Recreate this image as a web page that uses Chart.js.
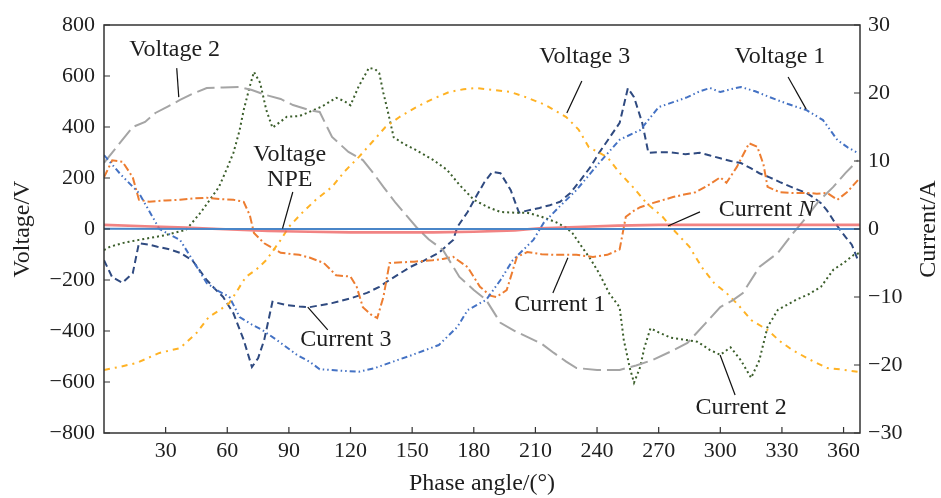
<!DOCTYPE html>
<html>
<head>
<meta charset="utf-8">
<script src="https://cdn.jsdelivr.net/npm/chart.js@4"></script>
<style>
  html, body { margin: 0; padding: 0; background: #fff; }
  #wrap { width: 941px; height: 498px; position: relative; }
</style>
</head>
<body>
<div id="wrap"><canvas id="c"></canvas></div>
<script>
// ── Data (angle in °, voltage in V, current in A) ──
const v1Angle = [0,8,17,27,37,43,50,56,61,66,72,77,84,94,100,105,114,124,132,139,150,163,172,177,186,193,199,209,214,222,230,241,251,261,270,278,284,290,295,300,305,310,317,324,333,342,350,357,362,367];
const v1Volt  = [290,215,141,0,-43,-120,-212,-245,-266,-345,-375,-396,-435,-494,-520,-550,-555,-560,-545,-525,-494,-455,-384,-318,-278,-200,-122,-43,24,90,153,259,350,388,478,500,517,540,553,537,548,557,540,517,490,466,427,349,320,298];

const v2Angle = [0,7,14,20,25,31,37,43,50,58,66,72,79,86,92,100,105,111,119,126,131,136,142,147,152,158,165,173,180,186,193,200,206,213,219,225,230,240,251,259,267,276,284,293,300,306,311,319,328,335,342,348,355,361,367];
const v2Volt  = [259,330,400,420,455,480,506,530,553,555,557,545,525,510,486,466,459,361,302,270,220,165,102,55,8,-40,-82,-188,-239,-278,-368,-400,-423,-450,-486,-520,-545,-553,-553,-535,-514,-480,-447,-368,-306,-280,-251,-149,-94,-20,47,110,165,220,270];

const v3Angle = [0,8,16,27,37,45,51,56,61,65,69,74,79,86,90,96,103,111,117,124,131,137,144,152,160,168,175,181,190,198,206,215,225,231,236,245,251,258,264,272,278,285,291,297,303,309,315,323,329,335,343,352,360,367];
const v3Volt  = [-553,-540,-525,-486,-467,-408,-345,-320,-290,-240,-188,-160,-122,-43,8,60,114,165,225,282,345,400,440,478,510,537,548,553,545,537,515,486,439,390,321,282,220,160,102,47,-10,-70,-150,-212,-251,-300,-357,-396,-440,-474,-510,-545,-552,-560];

const vnAngle = [0,60,120,180,240,300,368];
const vnVolt  = [1,0,0,0,0,0,0];

const c1Angle = [0,4,9,14,17,22,30,37,44,50,57,63,68,71,73,78,82,86,95,100,107,113,120,123,126,130,133,136,139,145,151,160,165,170,177,183,188,191,196,201,206,213,219,230,238,245,251,254,258,261,267,277,283,288,295,300,303,308,314,318,321,323,329,335,342,347,352,357,362,367];
const c1Amp   = [7.6,10.1,9.9,7.6,4.3,4.0,4.2,4.3,4.5,4.6,4.4,4.3,4.0,2.0,-0.6,-2.1,-2.8,-3.5,-3.8,-4.2,-5.0,-6.8,-7.0,-8.5,-11.5,-12.6,-13.1,-10,-5.0,-4.9,-4.8,-4.6,-4.4,-4.1,-5.6,-8.5,-9.8,-10,-9.0,-4.1,-3.4,-3.7,-3.8,-3.8,-4.1,-3.8,-3.0,1.8,2.7,3.2,3.8,4.7,5.1,5.4,6.6,7.6,6.8,9.1,12.6,12.1,9.5,6.2,5.4,5.3,5.3,5.2,5.3,4.3,5.5,7.2];

const c2Angle = [0,3,10,17,30,40,47,52,56,60,63,66,68,71,73,76,79,82,86,89,95,99,106,113,117,120,124,129,132,134,136,138,141,146,152,160,167,173,180,187,193,200,206,213,220,225,228,233,237,241,246,251,253,256,258,261,263,266,270,276,283,289,295,300,305,310,315,319,323,328,337,343,349,355,360,365,368];
const c2Amp   = [-3.1,-2.6,-2.0,-1.6,-0.9,-0.1,2.4,4.5,6.2,9.0,11.2,14.5,17.5,21.0,23.1,21.5,17.5,14.9,15.8,16.5,16.6,17.1,18.0,19.3,18.8,18.2,21.0,23.7,23.5,22.9,20.0,17.5,13.5,12.5,11.6,10.2,8.7,6.5,4.3,3.2,2.5,2.4,2.4,1.8,1.0,0.2,-0.6,-2.8,-4.5,-6.5,-9.5,-11.5,-16.3,-20.5,-22.6,-20.3,-17.5,-14.6,-15.2,-16.0,-16.3,-16.6,-17.8,-18.5,-17.4,-19.3,-21.9,-19.3,-14.4,-11.9,-10.4,-9.6,-8.5,-6.0,-5.0,-3.8,-3.5];

const c3Angle = [0,4,9,14,17,22,26,32,37,43,50,54,58,63,68,72,75,78,82,89,95,100,111,120,128,134,139,149,156,163,170,172,177,181,185,189,193,198,202,206,212,217,222,227,232,237,241,246,251,255,258,262,265,270,275,283,290,295,300,305,310,315,319,324,329,336,342,346,349,352,355,358,361,364,367];
const c3Amp   = [-4.6,-7.1,-7.9,-6.5,-2.1,-2.3,-2.6,-3.0,-3.5,-4.6,-7.5,-8.8,-10,-12.4,-16.3,-20.3,-19.0,-16.3,-10.7,-11.2,-11.4,-11.5,-10.9,-10.2,-9.4,-8.5,-7.5,-5.6,-4.6,-3.5,-1.6,0.3,2.5,4.7,6.8,8.4,8.2,5.7,2.4,2.7,3.1,3.5,4.0,5.3,7.2,9.2,11.2,13.4,15.6,20.7,19.4,15.6,11.2,11.3,11.3,11.0,11.2,10.8,10.4,10.0,9.7,8.9,8.2,7.6,6.9,6.0,5.3,4.5,3.8,2.7,1.3,0.0,-1.2,-2.3,-4.6];

const cnAngle = [0,20,40,56,80,100,120,140,160,180,200,212,230,250,270,290,310,330,350,368];
const cnAmp   = [0.6,0.4,0.2,0,-0.3,-0.4,-0.5,-0.5,-0.5,-0.4,-0.2,0.1,0.3,0.5,0.6,0.6,0.6,0.6,0.6,0.6];

const xTicks  = [30,60,90,120,150,180,210,240,270,300,330,360];
const yTicks  = [-800,-600,-400,-200,0,200,400,600,800];
const y1Ticks = [-30,-20,-10,0,10,20,30];

// ── Annotation labels (positions in x° / left-axis V) ──
const notes = [
  { text: ['Voltage 2'], at: [34.4, 702], line: [[35.4, 631], [36.4, 517]] },
  { text: ['Voltage 3'], at: [234, 675], line: [[232.6, 580], [225.3, 455]] },
  { text: ['Voltage 1'], at: [329, 675], line: [[333, 596], [341.8, 470]] },
  { text: ['Voltage', 'NPE'], at: [90.4, 290], line: [[91.9, 145], [86.9, 2]] },
  { text: ['Current N'], at: [322.5, 75], line: [[290.1, 67], [274.5, 12]], italicLast: true },
  { text: ['Current 1'], at: [221.9, -298], line: [[218.5, -251], [225.8, -113]] },
  { text: ['Current 3'], at: [117.7, -435], line: [[108.9, -396], [99.2, -306]] },
  { text: ['Current 2'], at: [310.1, -702], line: [[307.2, -651], [299.9, -494]] }
];

const FONT = '"Liberation Serif", "Times New Roman", serif';
const INK = '#1e1e1e';
const NOTE = '24px ' + FONT;

function pts(xs, ys) { return xs.map((x, i) => ({ x, y: ys[i] })); }
function minus(v) { return String(v).replace('-', '\u2212'); }

function line(label, data, axis, color, dash, width) {
  return {
    label, data, yAxisID: axis,
    borderColor: color, borderDash: dash, borderWidth: width || 2,
    pointRadius: 0, tension: 0, fill: false
  };
}

const datasets = [
  line('Voltage NPE', pts(vnAngle, vnVolt), 'y', '#4a86c8', [], 2.2),
  line('Current N', pts(cnAngle, cnAmp), 'y1', 'rgba(238,100,100,0.8)', [], 2.6),
  line('Voltage 1', pts(v1Angle, v1Volt), 'y', '#4472c4', [6, 3, 1.5, 3, 1.5, 3]),
  line('Voltage 2', pts(v2Angle, v2Volt), 'y', '#a5a5a5', [18, 6]),
  line('Voltage 3', pts(v3Angle, v3Volt), 'y', '#ffb224', [6, 5, 2, 5]),
  line('Current 1', pts(c1Angle, c1Amp), 'y1', '#ed7d31', [8, 3, 2, 3]),
  line('Current 2', pts(c2Angle, c2Amp), 'y1', '#3b5e2b', [2, 3]),
  line('Current 3', pts(c3Angle, c3Amp), 'y1', '#2f4a80', [7, 4])
];

// ── Frame, inner ticks, right title, annotations ──
const decor = {
  id: 'decor',
  afterDraw(chart) {
    const ctx = chart.ctx, a = chart.chartArea;
    const sx = chart.scales.x, sy = chart.scales.y, sy1 = chart.scales.y1;
    ctx.save();
    ctx.strokeStyle = '#333';
    ctx.lineWidth = 1.5;
    ctx.strokeRect(a.left, a.top, a.right - a.left, a.bottom - a.top);

    ctx.lineWidth = 1.2;
    ctx.beginPath();
    xTicks.forEach(v => {
      const x = sx.getPixelForValue(v);
      ctx.moveTo(x, a.bottom); ctx.lineTo(x, a.bottom - 6);
    });
    yTicks.forEach(v => {
      const y = sy.getPixelForValue(v);
      ctx.moveTo(a.left, y); ctx.lineTo(a.left + 6, y);
    });
    y1Ticks.forEach(v => {
      const y = sy1.getPixelForValue(v);
      ctx.moveTo(a.right, y); ctx.lineTo(a.right - 6, y);
    });
    ctx.stroke();

    // right axis title, reading bottom to top like the left one
    ctx.fillStyle = INK;
    ctx.font = NOTE;
    ctx.textAlign = 'center';
    ctx.textBaseline = 'middle';
    ctx.translate(929, (a.top + a.bottom) / 2);
    ctx.rotate(-Math.PI / 2);
    ctx.fillText('Current/A', 0, 0);
    ctx.setTransform(1, 0, 0, 1, 0, 0);

    // annotations
    notes.forEach(n => {
      ctx.strokeStyle = '#111';
      ctx.lineWidth = 1.2;
      ctx.beginPath();
      ctx.moveTo(sx.getPixelForValue(n.line[0][0]), sy.getPixelForValue(n.line[0][1]));
      ctx.lineTo(sx.getPixelForValue(n.line[1][0]), sy.getPixelForValue(n.line[1][1]));
      ctx.stroke();
      const cx = sx.getPixelForValue(n.at[0]);
      let cy = sy.getPixelForValue(n.at[1]);
      ctx.fillStyle = INK;
      n.text.forEach(t => {
        if (n.italicLast) {
          const head = t.slice(0, -1), tail = t.slice(-1);
          ctx.font = NOTE;
          const w1 = ctx.measureText(head).width;
          ctx.font = 'italic ' + NOTE;
          const w2 = ctx.measureText(tail).width;
          const x0 = cx - (w1 + w2) / 2;
          ctx.textAlign = 'left';
          ctx.font = NOTE;
          ctx.fillText(head, x0, cy);
          ctx.font = 'italic ' + NOTE;
          ctx.fillText(tail, x0 + w1, cy);
        } else {
          ctx.textAlign = 'center';
          ctx.font = NOTE;
          ctx.fillText(t, cx, cy);
        }
        cy += 25;
      });
    });
    ctx.restore();
  }
};

new Chart(document.getElementById('c'), {
  type: 'line',
  data: { datasets },
  options: {
    responsive: true,
    maintainAspectRatio: false,
    animation: false,
    layout: { padding: { top: 25, left: 0, right: 0, bottom: 0 } },
    plugins: { legend: { display: false }, tooltip: { enabled: false } },
    scales: {
      x: {
        type: 'linear', min: 0, max: 368,
        afterBuildTicks: s => { s.ticks = xTicks.map(v => ({ value: v })); },
        afterFit: s => { s.height = 65; },
        grid: { display: false, drawTicks: false },
        border: { display: false },
        ticks: { padding: 5, color: INK, font: { family: FONT, size: 22 }, maxRotation: 0 },
        title: { display: true, text: 'Phase angle/(°)', color: INK, font: { family: FONT, size: 24 }, padding: { top: 0, bottom: 0 } }
      },
      y: {
        position: 'left', min: -800, max: 800,
        afterBuildTicks: s => { s.ticks = yTicks.map(v => ({ value: v })); },
        afterFit: s => { s.width = 104; },
        grid: { display: false, drawTicks: false },
        border: { display: false },
        ticks: { padding: 9, color: INK, font: { family: FONT, size: 22 }, callback: v => minus(v) },
        title: { display: true, text: 'Voltage/V', color: INK, font: { family: FONT, size: 24 }, padding: { top: 8, bottom: 0 } }
      },
      y1: {
        position: 'right', min: -30, max: 30,
        afterBuildTicks: s => { s.ticks = y1Ticks.map(v => ({ value: v })); },
        afterFit: s => { s.width = 81; },
        grid: { display: false, drawTicks: false },
        border: { display: false },
        ticks: { padding: 8, color: INK, font: { family: FONT, size: 22 }, callback: v => minus(v) }
      }
    }
  },
  plugins: [decor]
});
</script>
</body>
</html>
